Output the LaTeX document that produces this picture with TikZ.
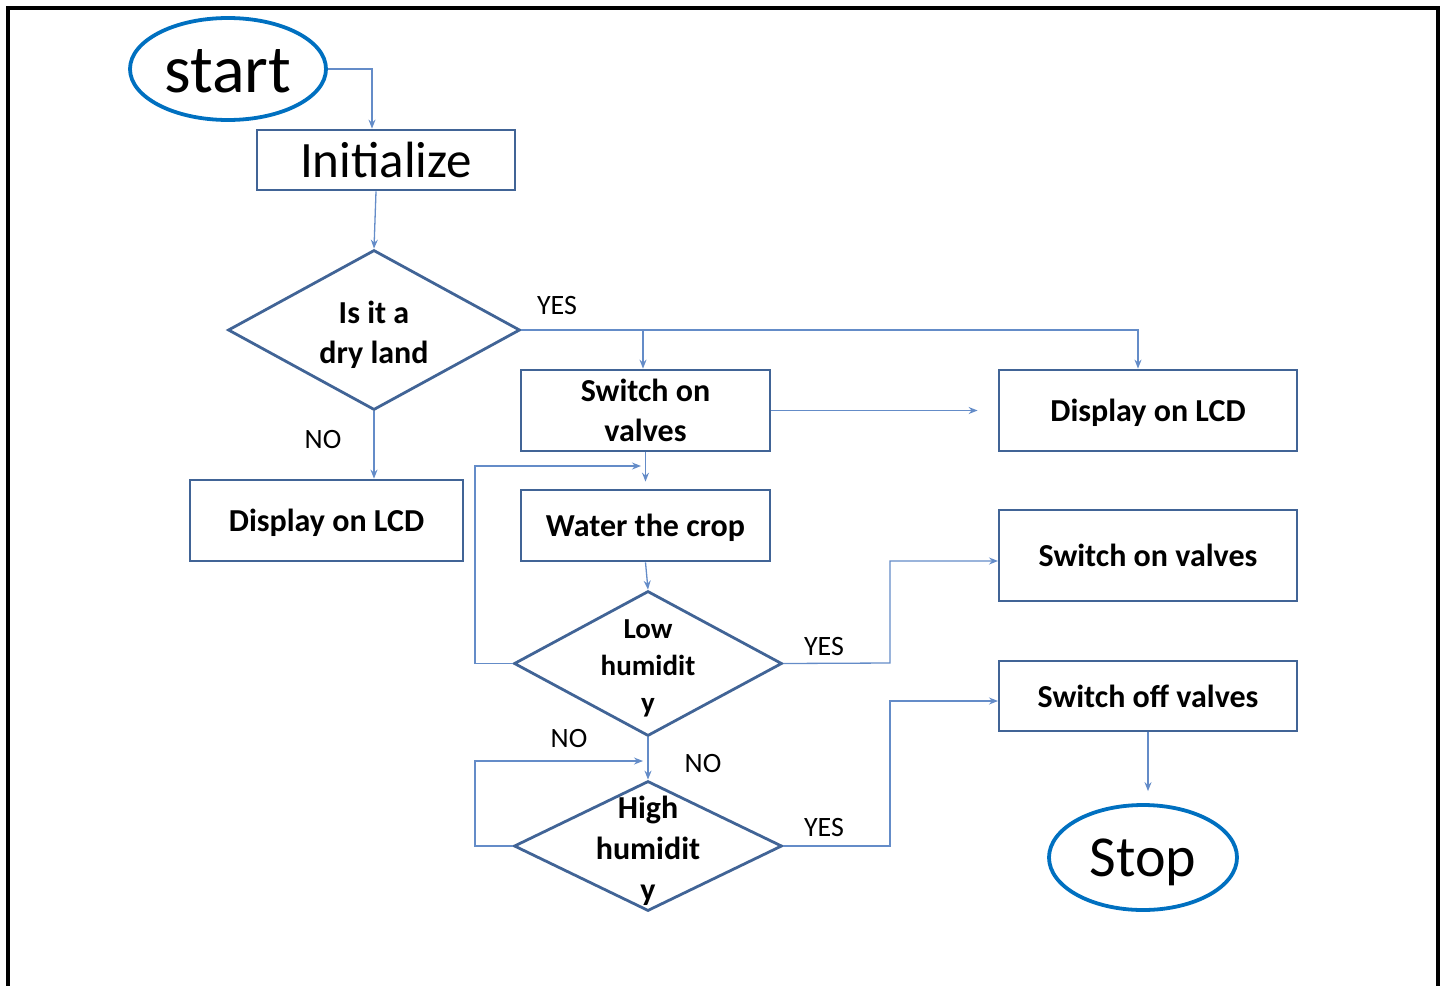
\documentclass[tikz,border=0pt]{standalone}
\usepackage{fontspec}
\setmainfont{Carlito}
\usetikzlibrary{shapes.geometric,arrows.meta}
\definecolor{boxc}{RGB}{65,100,150}
\definecolor{linec}{RGB}{100,140,200}
\definecolor{ellc}{RGB}{0,112,192}
\begin{document}
\begin{tikzpicture}[x=1pt,y=-1pt,
 box/.style={draw=boxc,line width=2.8pt,rectangle,inner sep=0pt,text depth=0pt,align=center,font=\fontsize{32}{40}\selectfont\bfseries},
 dec/.style={draw=boxc,line width=2.8pt,diamond,inner sep=0pt},
 dtext/.style={align=center,inner sep=0pt,font=\fontsize{32}{40}\selectfont\bfseries},
 term/.style={draw=ellc,line width=3.8pt,ellipse,inner sep=0pt,text depth=0pt},
 conn/.style={draw=linec,line width=1.3pt,-{Stealth[length=9pt,width=7pt,inset=3pt]}},
 lbl/.style={font=\fontsize{28}{34}\selectfont,inner sep=0pt}]
\useasboundingbox (0,0) rectangle (1447,985);
\draw[line width=4pt] (8,8) rectangle (1438,1010);

% nodes
\node[term,minimum width=196pt,minimum height=102pt,font=\fontsize{68}{80}\selectfont] (start) at (228,69) {\raisebox{-4pt}{start}};
\node[box,minimum width=258pt,minimum height=60pt,font=\fontsize{51}{60}\selectfont] (init) at (386,160) {Initialize};
\node[dec,minimum width=292pt,minimum height=160pt] (d1) at (374,330) {};
\node[dtext] (d1t) at (374,335) {Is it a\\dry land};
\node[box,minimum width=249pt,minimum height=81pt] (sov) at (645.5,410.5) {Switch on\\valves};
\node[box,minimum width=298pt,minimum height=81pt] (lcdR) at (1148,410.5) {Display on LCD};
\node[box,minimum width=273pt,minimum height=81pt] (lcdL) at (326.5,520.5) {Display on LCD};
\node[box,minimum width=249pt,minimum height=71pt] (water) at (645.5,525.5) {Water the crop};
\node[box,minimum width=298pt,minimum height=91pt] (sonR) at (1148,555.5) {Switch on valves};
\node[dec,minimum width=268pt,minimum height=145pt] (low) at (648,663.5) {};
\node[dtext,font=\fontsize{29}{37}\selectfont\bfseries] (lowt) at (648,668) {Low\\humidit\\y};
\node[box,minimum width=298pt,minimum height=70pt] (soff) at (1148,696) {Switch off valves};
\node[dec,minimum width=268pt,minimum height=130pt] (high) at (648,846) {};
\node[dtext,font=\fontsize{32}{41}\selectfont\bfseries] (hight) at (648,851) {High\\humidit\\y};
\node[term,minimum width=188pt,minimum height=105pt,font=\fontsize{58}{70}\selectfont] (stop) at (1143,857.5) {Stop};

% labels
\node[lbl] (yes1) at (557,306) {YES};
\node[lbl] (no1) at (323,440) {NO};
\node[lbl] (yes2) at (824,647) {YES};
\node[lbl] (no2) at (569,738) {NO};
\node[lbl] (no3) at (703,763) {NO};
\node[lbl] (yes3) at (824,827) {YES};

% helper coordinates
\coordinate (l1) at (475,466);
\coordinate (l1e) at (641,466);
\coordinate (l2) at (475,761);
\coordinate (l2e) at (643,761);
\coordinate (r1) at (890,663);
\coordinate (r1e) at (998,561);
\coordinate (r2) at (890,846);
\coordinate (r2e) at (998,701);
\coordinate (br) at (643,330);

% connectors
\draw[conn] (start.east) -| ([xshift=-14pt]init.north);
\draw[conn] ([xshift=-10pt]init.south) -- (d1.north);
\draw[conn] (d1.east) -| ([xshift=-10pt]lcdR.north);
\draw[conn] (br) -- (br |- sov.north);
\draw[conn] (d1.south) -- (d1.south |- lcdL.north);
\draw[conn,shorten >=20pt] (sov.east) -- (lcdR.west);
\draw[conn,shorten >=7pt] (sov.south) -- (water.north);
\draw[conn] (low.west) -| (l1) -- (l1e);
\draw[conn] (water.south) -- (low.north);
\draw[conn] (low.east) -- (r1) |- (r1e);
\draw[conn] (low.south) -- (high.north);
\draw[conn] (high.west) -| (l2) -- (l2e);
\draw[conn] (high.east) -- (r2) |- (r2e);
\draw[conn,shorten >=12pt] (soff.south) -- (soff.south |- stop.north);
\end{tikzpicture}
\end{document}
